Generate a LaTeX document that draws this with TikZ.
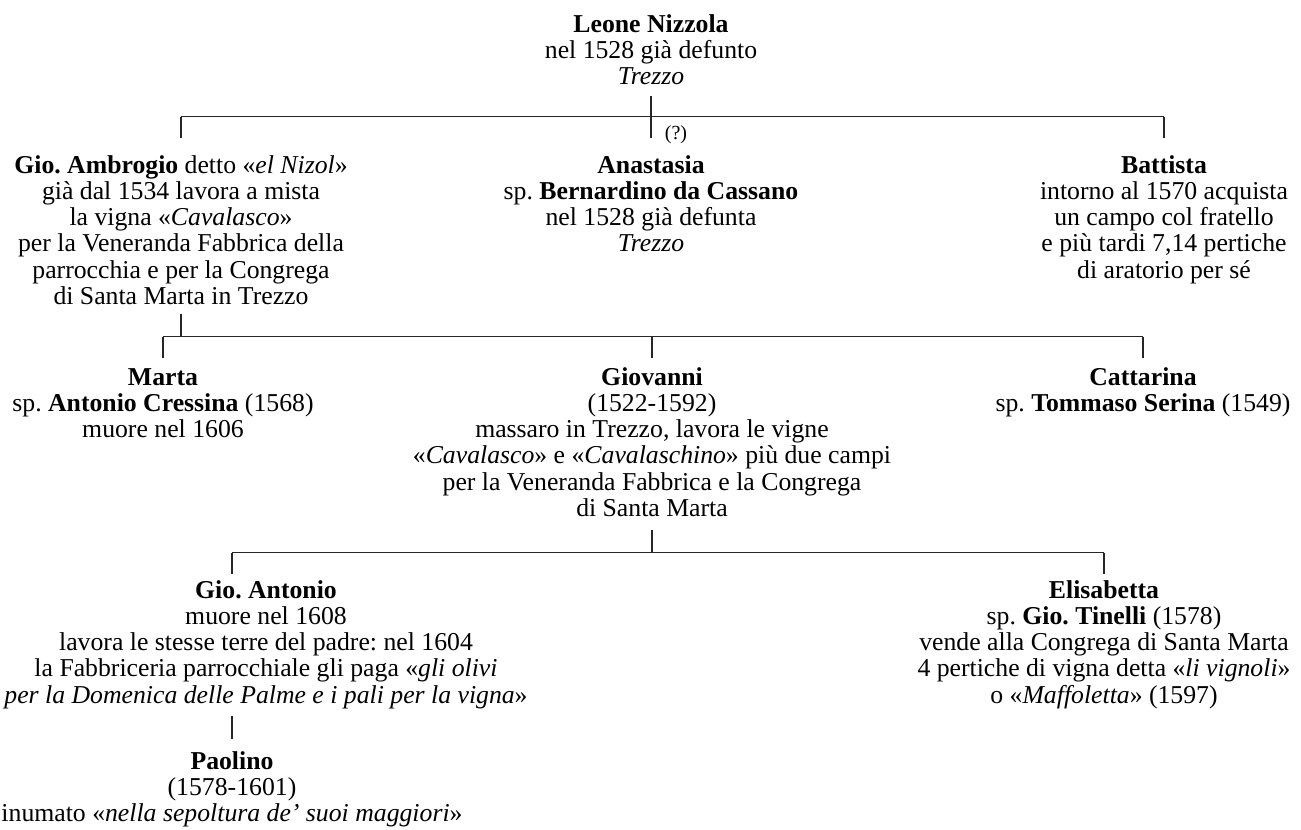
\documentclass[tikz,border=0pt]{standalone}
\usepackage{fontspec}
\setmainfont{Liberation Serif}
\usepackage{tikz}
\usetikzlibrary{
  positioning,
  calc
}
\newcommand{\famfont}{\fontsize{19.3}{19.7}\selectfont}
\tikzstyle{person}=[align=center, inner sep=0pt, anchor=north, font=\famfont]
\tikzstyle{branch}=[line width=0.95pt, black!85]

\begin{document}
\frenchspacing
\begin{tikzpicture}[x=0.75pt, y=-0.75pt]
      \useasboundingbox (0,0) rectangle (1301,829);

      % 横線の高さ
      \coordinate (bar1) at (0,116.5);
      \coordinate (bar2) at (0,336.5);
      \coordinate (bar3) at (0,552.5);

      % 第1世代
      \node (leone) [person] at (651,13.4) {\strut\textbf{Leone Nizzola}\\
        nel 1528 già defunto\\
        \textit{Trezzo}\strut};

      % 第2世代
      \node (ambrogio) [person] at (181,154.4) {\strut\textbf{Gio. Ambrogio} detto «\textit{el Nizol}»\\
        già dal 1534 lavora a mista\\
        la vigna «\textit{Cavalasco}»\\
        per la Veneranda Fabbrica della\\
        parrocchia e per la Congrega\\
        di Santa Marta in Trezzo\strut};
      \node (anastasia) [person] at (651,154.4) {\strut\textbf{Anastasia}\\
        sp. \textbf{Bernardino da Cassano}\\
        nel 1528 già defunta\\
        \textit{Trezzo}\strut};
      \node (battista) [person] at (1164,154.4) {\strut\textbf{Battista}\\
        intorno al 1570 acquista\\
        un campo col fratello\\
        e più tardi 7,14 pertiche\\
        di aratorio per sé\strut};
      \node (dubbio) [font=\fontsize{15}{18}\selectfont, inner sep=0pt] at (676,135) {(?)};

      % 第3世代
      \node (marta) [person] at (163,366.4) {\strut\textbf{Marta}\\
        sp. \textbf{Antonio Cressina} (1568)\\
        muore nel 1606\strut};
      \node (giovanni) [person] at (652,366.4) {\strut\textbf{Giovanni}\\
        (1522-1592)\\
        massaro in Trezzo, lavora le vigne\\
        «\textit{Cavalasco}» e «\textit{Cavalaschino}» più due campi\\
        per la Veneranda Fabbrica e la Congrega\\
        di Santa Marta\strut};
      \node (cattarina) [person] at (1143,366.4) {\strut\textbf{Cattarina}\\
        sp. \textbf{Tommaso Serina} (1549)\strut};

      % 第4世代
      \node (gioantonio) [person] at (266,579.4) {\strut\textbf{Gio. Antonio}\\
        muore nel 1608\\
        lavora le stesse terre del padre: nel 1604\\
        la Fabbriceria parrocchiale gli paga «\textit{gli olivi}\\
        \textit{per la Domenica delle Palme e i pali per la vigna}»\strut};
      \node (elisabetta) [person] at (1104,579.4) {\strut\textbf{Elisabetta}\\
        sp. \textbf{Gio. Tinelli} (1578)\\
        vende alla Congrega di Santa Marta\\
        4 pertiche di vigna detta «\textit{li vignoli}»\\
        o «\textit{Maffoletta}» (1597)\strut};

      % 第5世代
      \node (paolino) [person] at (232,750.4) {\strut\textbf{Paolino}\\
        (1578-1601)\\
        inumato «\textit{nella sepoltura de’ suoi maggiori}»\strut};

      % Gio. Antonioの線の位置 (テキストの中心からずれている)
      \coordinate (ga) at (gioantonio.south -| paolino.north);

      % Leoneの子
      \draw[branch] (leone.south) ++(0,3) -- (anastasia.north |- bar1) -- ++(0,21.5);
      \draw[branch] (ambrogio.north |- bar1) -- (battista.north |- bar1);
      \foreach \n in {ambrogio, battista}
        \draw[branch] (\n.north |- bar1) -- ++(0,21.5);

      % Gio. Ambrogioの子
      \draw[branch] (ambrogio.south) ++(0,1) -- (ambrogio.south |- bar2);
      \draw[branch] (marta.north |- bar2) -- (cattarina.north |- bar2);
      \foreach \n in {marta, giovanni, cattarina}
        \draw[branch] (\n.north |- bar2) -- ++(0,21);

      % Giovanniの子
      \draw[branch] (giovanni.south) ++(0,5) -- (giovanni.south |- bar3);
      \draw[branch] (ga |- bar3) -- (elisabetta.north |- bar3);
      \draw[branch] (ga |- bar3) -- ++(0,21);
      \draw[branch] (elisabetta.north |- bar3) -- ++(0,21);

      % Gio. Antonioの子
      \draw[branch] (ga) ++(0,5) -- ++(0,23);
    \end{tikzpicture}
\end{document}
